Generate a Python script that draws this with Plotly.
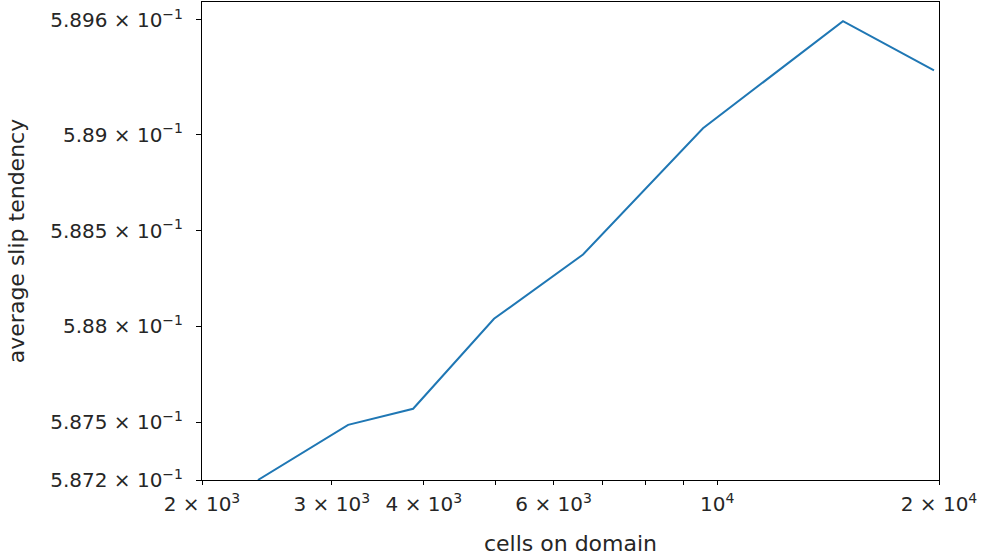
import plotly.graph_objects as go
import math

cells = [2382, 3157, 3868, 4980, 6577, 9568, 14816, 19690]
avg_slip = [0.58720, 0.587487, 0.587571, 0.588040, 0.588375, 0.589034, 0.589594, 0.589337]

x_tick_vals = [2000, 3000, 4000, 6000, 10000, 20000]
x_tick_text = ["2 × 10<sup>3</sup>", "3 × 10<sup>3</sup>", "4 × 10<sup>3</sup>",
               "6 × 10<sup>3</sup>", "10<sup>4</sup>", "2 × 10<sup>4</sup>"]
x_minor_vals = [5000, 7000, 8000, 9000]
y_tick_vals = [0.5872, 0.5875, 0.588, 0.5885, 0.589, 0.5896]
y_tick_text = ["5.872 × 10<sup>−1</sup>", "5.875 × 10<sup>−1</sup>", "5.88 × 10<sup>−1</sup>",
               "5.885 × 10<sup>−1</sup>", "5.89 × 10<sup>−1</sup>", "5.896 × 10<sup>−1</sup>"]

TICKFONT = dict(family="DejaVu Sans", size=20, color="#262626")
TITLEFONT = dict(family="DejaVu Sans", size=22, color="#262626")
xr = [math.log10(2000), math.log10(20000)]
yr = [math.log10(0.5872), math.log10(0.589694)]

fig = go.Figure()
fig.add_trace(go.Scatter(x=cells, y=avg_slip, mode="lines",
                         line=dict(color="#1f77b4", width=2), showlegend=False))

fig.update_layout(
    width=983, height=560,
    margin=dict(l=202, r=44, t=2, b=80),
    paper_bgcolor="white", plot_bgcolor="white",
    font=TICKFONT,
    xaxis=dict(type="log", range=xr, tickmode="array", tickvals=x_tick_vals, ticktext=x_tick_text,
               ticks="outside", ticklen=4, tickwidth=1, tickcolor="black", tickfont=TICKFONT,
               showline=True, linecolor="black", linewidth=1, mirror=True,
               showgrid=False, zeroline=False, automargin=False, ticklabelstandoff=2,
               minor=dict(tickmode="array", tickvals=x_minor_vals, ticks="outside",
                          ticklen=4, tickwidth=1, tickcolor="black", showgrid=False),
               title=dict(text="cells on domain", standoff=20, font=TITLEFONT)),
    xaxis2=dict(type="log", range=xr, overlaying="x", anchor="y", side="bottom",
                tickmode="array", tickvals=[10000], showticklabels=False,
                ticks="outside", ticklen=7, tickwidth=1, tickcolor="black",
                showgrid=False, zeroline=False, showline=False, automargin=False),
    yaxis=dict(type="log", range=yr, tickmode="array", tickvals=y_tick_vals, ticktext=y_tick_text,
               ticks="outside", ticklen=5, tickwidth=1, tickcolor="black", tickfont=TICKFONT,
               showline=True, linecolor="black", linewidth=1, mirror=True,
               showgrid=False, zeroline=False, ticklabelstandoff=9, automargin=False,
               title=dict(text="average slip tendency", standoff=19, font=TITLEFONT)),
)

fig.write_html("out.html", config={"displayModeBar": False},
               post_script="document.body.style.margin='0';")
